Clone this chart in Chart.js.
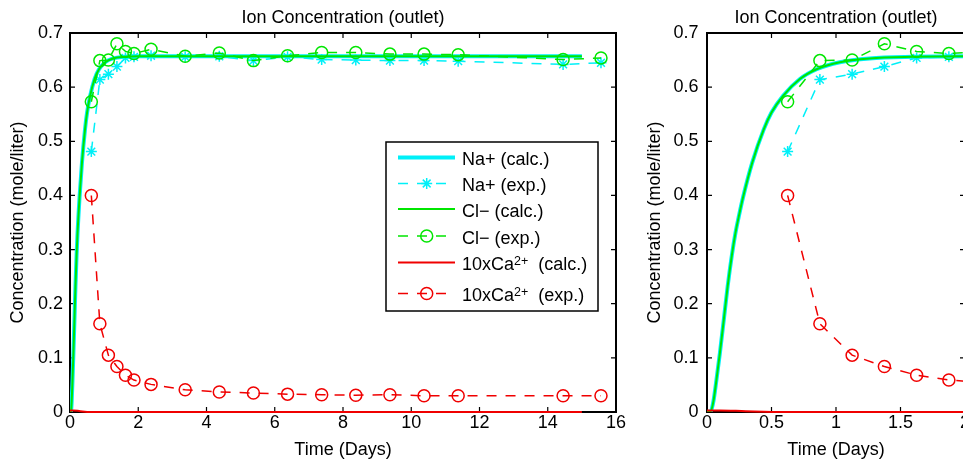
<!DOCTYPE html>
<html>
<head>
<meta charset="utf-8">
<title>Ion Concentration (outlet)</title>
<script src="https://cdn.jsdelivr.net/npm/chart.js@4"></script>
<style>
html,body{margin:0;padding:0;background:#fff;overflow:hidden;width:963px;height:461px}
#left{position:absolute;left:0;top:0}
#right{position:absolute;left:630px;top:0}
</style>
</head>
<body>
<canvas id="left" width="630" height="461"></canvas>
<canvas id="right" width="360" height="461"></canvas>
<script>
// values (time in days, concentration in mole/liter)
const calcTime = [0, 0.03, 0.05, 0.073, 0.1, 0.13, 0.16, 0.193, 0.22, 0.25, 0.28, 0.35, 0.44, 0.5, 0.59, 0.72, 0.85, 1.03, 1.26, 1.6, 2, 3, 5, 8, 12, 15];
const calcNa = [0, 0.002, 0.02, 0.059, 0.109, 0.17, 0.232, 0.29, 0.33, 0.365, 0.397, 0.46, 0.522, 0.553, 0.584, 0.615, 0.633, 0.646, 0.653, 0.656, 0.657, 0.657, 0.657, 0.657, 0.657, 0.657];
const calcCl = [0, 0.002, 0.02, 0.059, 0.109, 0.17, 0.232, 0.29, 0.33, 0.365, 0.397, 0.46, 0.522, 0.553, 0.584, 0.615, 0.633, 0.646, 0.653, 0.656, 0.657, 0.657, 0.657, 0.657, 0.657, 0.657];
const caTime = [0, 0.1, 0.3, 0.6, 15];
const calcCa = [0.003, 0.003, 0.0015, 0, 0];

const expTime = [0.625, 0.875, 1.125, 1.375, 1.625, 1.875, 2.375, 3.375, 4.375, 5.375, 6.375, 7.375, 8.375, 9.375, 10.375, 11.375, 14.45, 15.56];
const expNa = [0.481, 0.614, 0.624, 0.638, 0.654, 0.656, 0.658, 0.656, 0.657, 0.649, 0.656, 0.651, 0.650, 0.649, 0.649, 0.648, 0.642, 0.645];
const expCl = [0.573, 0.649, 0.650, 0.680, 0.666, 0.662, 0.670, 0.657, 0.663, 0.649, 0.658, 0.664, 0.664, 0.661, 0.661, 0.660, 0.651, 0.654];
const expCa = [0.400, 0.163, 0.105, 0.084, 0.068, 0.059, 0.051, 0.041, 0.037, 0.035, 0.033, 0.032, 0.031, 0.032, 0.030, 0.030, 0.030, 0.030];

// axis ticks
const yTicks = [0, 0.1, 0.2, 0.3, 0.4, 0.5, 0.6, 0.7];
const yTickLabels = ['0', '0.1', '0.2', '0.3', '0.4', '0.5', '0.6', '0.7'];
const xTicksLeft = [0, 2, 4, 6, 8, 10, 12, 14, 16];
const xTickLabelsLeft = ['0', '2', '4', '6', '8', '10', '12', '14', '16'];
const xTicksRight = [0, 0.5, 1, 1.5, 2];
const xTickLabelsRight = ['0', '0.5', '1', '1.5', '2'];

// legend text: [text, superscript, text after]
const legendText = [
  ['Na+ (calc.)'], ['Na+ (exp.)'], ['Cl\u2212 (calc.)'], ['Cl\u2212 (exp.)'],
  ['10xCa', '2+', '(calc.)'], ['10xCa', '2+', '(exp.)']
];

const CYAN = '#00f0f8', GREEN = '#00e600', RED = '#f00000';
const FONT = '"Liberation Sans", Arial, Helvetica, sans-serif';
Chart.defaults.font.family = FONT;
Chart.defaults.font.size = 18;
Chart.defaults.color = '#000';

function pts(xs, ys) {
  return xs.map((x, i) => ({x: x, y: ys[i]}));
}

function makeDatasets() {
  const dash = [10, 9];
  const clipBottom = {left: 0, top: 0, right: 0, bottom: 3};
  return [
    {label: 'Na+ (calc.)', data: pts(calcTime, calcNa), borderColor: CYAN, borderWidth: 4,
     pointRadius: 0, cubicInterpolationMode: 'monotone', order: 6},
    {label: 'Na+ (exp.)', data: pts(expTime, expNa), borderColor: CYAN, borderWidth: 1.5, borderDash: dash,
     pointStyle: 'star', pointRadius: 5.5, pointBorderWidth: 1.5, pointBorderColor: CYAN,
     pointBackgroundColor: 'rgba(0,0,0,0)', order: 5},
    {label: 'Cl\u2212 (calc.)', data: pts(calcTime, calcCl), borderColor: GREEN, borderWidth: 2,
     pointRadius: 0, cubicInterpolationMode: 'monotone', order: 4},
    {label: 'Cl\u2212 (exp.)', data: pts(expTime, expCl), borderColor: GREEN, borderWidth: 1.5, borderDash: dash,
     pointStyle: 'circle', pointRadius: 6, pointBorderWidth: 1.5, pointBorderColor: GREEN,
     pointBackgroundColor: 'rgba(0,0,0,0)', order: 3},
    {label: '10xCa\u00b2\u207a (calc.)', data: pts(caTime, calcCa), borderColor: RED, borderWidth: 2,
     pointRadius: 0, cubicInterpolationMode: 'monotone', clip: clipBottom, order: 2},
    {label: '10xCa\u00b2\u207a (exp.)', data: pts(expTime, expCa), borderColor: RED, borderWidth: 1.5, borderDash: dash,
     pointStyle: 'circle', pointRadius: 6, pointBorderWidth: 1.5, pointBorderColor: RED,
     pointBackgroundColor: 'rgba(0,0,0,0)', order: 1}
  ];
}

// box round the plot with inward ticks on all four sides
const framePlugin = {
  id: 'frame',
  beforeDatasetsDraw(chart) {
    const {ctx, chartArea: a, scales: {x, y}} = chart;
    ctx.save();
    ctx.strokeStyle = '#000';
    ctx.lineWidth = 1.2;
    ctx.beginPath();
    x.ticks.forEach(t => {
      const px = x.getPixelForValue(t.value);
      ctx.moveTo(px, a.bottom); ctx.lineTo(px, a.bottom - 5);
      ctx.moveTo(px, a.top); ctx.lineTo(px, a.top + 5);
    });
    y.ticks.forEach(t => {
      const py = y.getPixelForValue(t.value);
      ctx.moveTo(a.left, py); ctx.lineTo(a.left + 5, py);
      ctx.moveTo(a.right, py); ctx.lineTo(a.right - 5, py);
    });
    ctx.stroke();
    ctx.lineWidth = 2;
    ctx.strokeRect(a.left, a.top, a.right - a.left, a.bottom - a.top);
    ctx.restore();
  }
};

// matlab style legend box
const legendPlugin = {
  id: 'boxLegend',
  afterDraw(chart) {
    const ctx = chart.ctx;
    const box = {x: 386, y: 142, w: 212, h: 169};
    const rows = [157.5, 183.5, 209, 236, 262.5, 293.5];
    ctx.save();
    ctx.fillStyle = '#fff';
    ctx.fillRect(box.x, box.y, box.w, box.h);
    ctx.strokeStyle = '#000';
    ctx.lineWidth = 1.5;
    ctx.strokeRect(box.x, box.y, box.w, box.h);
    chart.data.datasets.forEach((ds, i) => {
      const ry = rows[i];
      ctx.save();
      ctx.strokeStyle = ds.borderColor;
      ctx.lineWidth = ds.borderWidth;
      ctx.setLineDash(ds.borderDash || []);
      ctx.beginPath();
      ctx.moveTo(398, ry);
      ctx.lineTo(455, ry);
      ctx.stroke();
      ctx.setLineDash([]);
      if (ds.pointRadius > 0) {
        ctx.fillStyle = 'rgba(0,0,0,0)';
        ctx.lineWidth = ds.pointBorderWidth;
        Chart.helpers.drawPoint(ctx, {pointStyle: ds.pointStyle, radius: ds.pointRadius,
          borderWidth: ds.pointBorderWidth, rotation: 0}, 426.7, ry);
      }
      ctx.restore();
      const parts = legendText[i];
      let tx = 462;
      const base = ry + 7.5;
      ctx.fillStyle = '#000';
      ctx.textBaseline = 'alphabetic';
      ctx.textAlign = 'left';
      ctx.font = '18px ' + FONT;
      ctx.fillText(parts[0], tx, base);
      if (parts.length > 1) {
        tx += ctx.measureText(parts[0]).width;
        ctx.font = '12.5px ' + FONT;
        ctx.fillText(parts[1], tx, base - 5);
        tx += ctx.measureText(parts[1]).width + 10;
        ctx.font = '18px ' + FONT;
        ctx.fillText(parts[2], tx, base);
      }
    });
    ctx.restore();
  }
};

function makeOptions(xTicks, xLabels, xMax, yWidth, yTitlePad, yTickPad, padRight) {
  return {
    responsive: false,
    animation: false,
    events: [],
    layout: {padding: {left: 0, right: padRight, top: 0, bottom: 0}},
    plugins: {
      legend: {display: false},
      tooltip: {enabled: false},
      title: {display: true, text: 'Ion Concentration (outlet)', fullSize: false,
              font: {size: 18, weight: 'normal'}, padding: {top: 7.5, bottom: 3.9}, color: '#000'}
    },
    scales: {
      x: {
        type: 'linear', min: 0, max: xMax,
        grid: {display: false, drawTicks: false}, border: {display: false},
        afterBuildTicks: s => { s.ticks = xTicks.map(v => ({value: v})); },
        afterFit: s => { s.height = 49; },
        ticks: {padding: 0, autoSkip: false, maxRotation: 0,
                callback: (v, i) => xLabels[i]},
        title: {display: true, text: 'Time (Days)', font: {size: 18}, padding: {top: 0, bottom: 0}}
      },
      y: {
        type: 'linear', min: 0, max: 0.7,
        grid: {display: false, drawTicks: false}, border: {display: false},
        afterBuildTicks: s => { s.ticks = yTicks.map(v => ({value: v})); },
        afterFit: s => { s.width = yWidth; },
        ticks: {padding: yTickPad, autoSkip: false, callback: (v, i) => yTickLabels[i]},
        title: {display: true, text: 'Concentration (mole/liter)', font: {size: 18},
                padding: {top: yTitlePad, bottom: 0}}
      }
    }
  };
}

new Chart(document.getElementById('left'), {
  type: 'line',
  data: {datasets: makeDatasets()},
  options: makeOptions(xTicksLeft, xTickLabelsLeft, 16, 70, 7.5, 7, 14),
  plugins: [framePlugin, legendPlugin]
});

new Chart(document.getElementById('right'), {
  type: 'line',
  data: {datasets: makeDatasets()},
  options: makeOptions(xTicksRight, xTickLabelsRight, 2, 77, 14.2, 8.5, 25),
  plugins: [framePlugin]
});
</script>
</body>
</html>
